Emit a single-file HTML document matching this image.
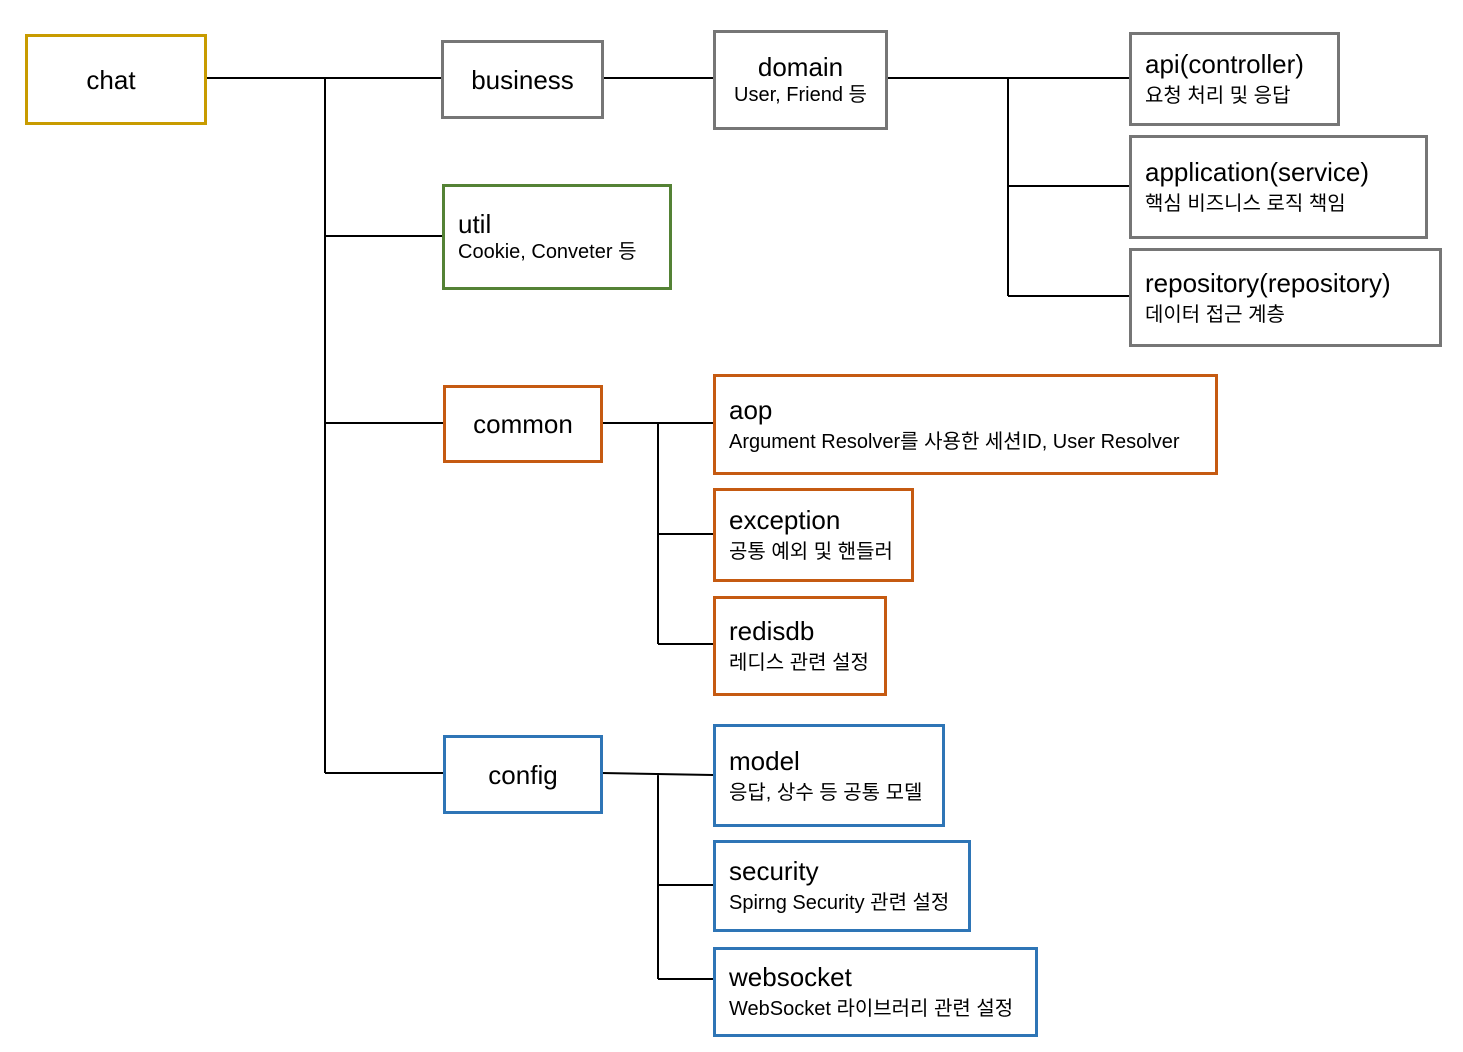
<!DOCTYPE html>
<html><head><meta charset="utf-8"><style>
body{margin:0;width:1463px;height:1052px;background:#fff;position:relative;overflow:hidden;font-family:"Liberation Sans","Noto Sans CJK KR",sans-serif;color:#000}
.b{position:absolute;box-sizing:border-box;border:3px solid;display:flex;flex-direction:column;justify-content:center;padding-left:13px;background:#fff}
.c{align-items:center;padding-left:0}
.t{font-size:26px;line-height:30px}
.s{font-size:20px;line-height:26px;margin-top:4px}
.g{border-color:#767676}.o{border-color:#c55a11}.bl{border-color:#2e75b6}
svg{position:absolute;left:0;top:0}
</style></head><body>
<svg width="1463" height="1052"><g stroke="#000" stroke-width="2" fill="none">
<path d="M206 78H441M325 78V773M325 236H442M325 423H443M325 773H443"/>
<path d="M603 78H713M887 78H1129M1008 78V296M1008 186H1129M1008 296H1129"/>
<path d="M602 423H713M658 423V644M658 534H713M658 644H713"/>
<path d="M602 773L713 775M658 773V979M658 885H713M658 979H713"/>
</g></svg>
<div class="b c" style="left:25px;top:34px;width:182px;height:91px;border-color:#c89b00"><div class="t" style="margin-right:10px">chat</div></div>
<div class="b c g" style="left:441px;top:40px;width:163px;height:79px"><div class="t">business</div></div>
<div class="b g" style="left:713px;top:30px;width:175px;height:100px;padding-left:0;align-items:center"><div class="t">domain</div><div class="s" style="margin-top:0">User, Friend 등</div></div>
<div class="b g" style="left:1129px;top:32px;width:211px;height:94px"><div class="t">api(controller)</div><div class="s">요청 처리 및 응답</div></div>
<div class="b g" style="left:1129px;top:135px;width:299px;height:104px"><div class="t">application(service)</div><div class="s">핵심 비즈니스 로직 책임</div></div>
<div class="b g" style="left:1129px;top:248px;width:313px;height:99px"><div class="t">repository(repository)</div><div class="s">데이터 접근 계층</div></div>
<div class="b" style="left:442px;top:184px;width:230px;height:106px;border-color:#548235"><div class="t">util</div><div class="s" style="margin-top:0">Cookie, Conveter 등</div></div>
<div class="b c o" style="left:443px;top:385px;width:160px;height:78px"><div class="t">common</div></div>
<div class="b o" style="left:713px;top:374px;width:505px;height:101px"><div class="t">aop</div><div class="s">Argument Resolver를 사용한 세션ID, User Resolver</div></div>
<div class="b o" style="left:713px;top:488px;width:201px;height:94px"><div class="t">exception</div><div class="s">공통 예외 및 핸들러</div></div>
<div class="b o" style="left:713px;top:596px;width:174px;height:100px"><div class="t">redisdb</div><div class="s">레디스 관련 설정</div></div>
<div class="b c bl" style="left:443px;top:735px;width:160px;height:79px"><div class="t">config</div></div>
<div class="b bl" style="left:713px;top:724px;width:232px;height:103px"><div class="t">model</div><div class="s">응답, 상수 등 공통 모델</div></div>
<div class="b bl" style="left:713px;top:840px;width:258px;height:92px"><div class="t">security</div><div class="s">Spirng Security 관련 설정</div></div>
<div class="b bl" style="left:713px;top:947px;width:325px;height:90px"><div class="t">websocket</div><div class="s">WebSocket 라이브러리 관련 설정</div></div>
</body></html>
